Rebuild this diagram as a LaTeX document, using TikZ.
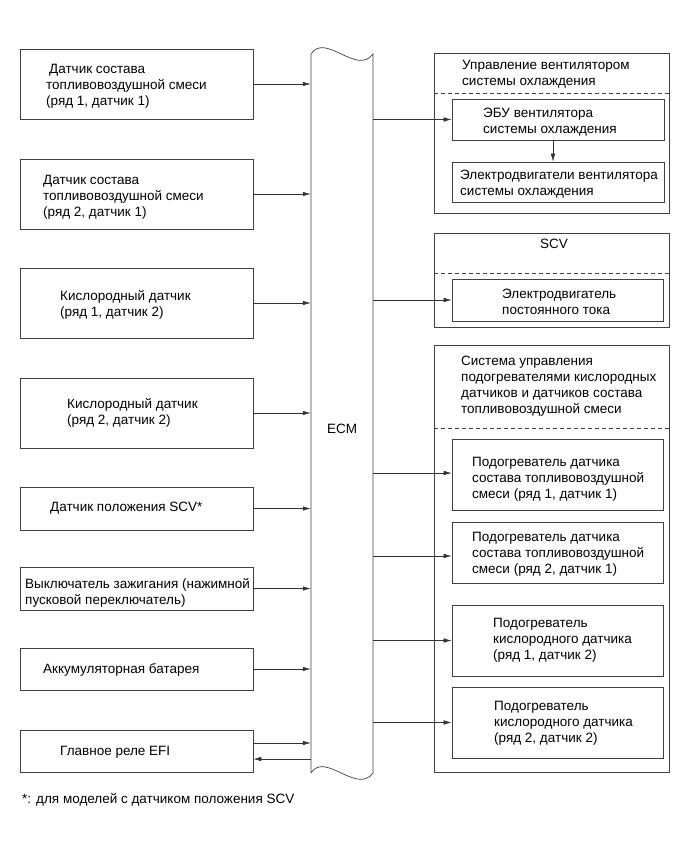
\documentclass[tikz,border=0pt]{standalone}
\usepackage{fontspec}
\setmainfont{Liberation Sans}
\usetikzlibrary{arrows.meta,fit}
\begin{document}
\begin{tikzpicture}[x=1pt,y=-1pt,
  box/.style={draw=black!75, line width=0.7pt, inner sep=0pt},
  txt/.style={font=\fontsize{13.5}{16}\selectfont, align=left, anchor=west, inner sep=0pt, yshift=-1.5pt},
  arr/.style={draw=black!80, line width=0.6pt, -{Latex[length=8pt,width=4.5pt]}},
  sep/.style={draw=black!75, line width=0.6pt, dash pattern=on 4pt off 3pt},
  wave/.style={draw=black!75, line width=0.7pt}
]
\useasboundingbox (0,0) rectangle (691,854);

% left boxes
\node[box, fit={(20,49)(253,119)}] (l1) {};
\node[box, fit={(20,159)(253,229)}] (l2) {};
\node[box, fit={(20,268)(253,338)}] (l3) {};
\node[box, fit={(20,378)(253,448)}] (l4) {};
\node[box, fit={(20,487)(253,530)}] (l5) {};
\node[box, fit={(20,567)(253,610)}] (l6) {};
\node[box, fit={(20,648)(253,690)}] (l7) {};
\node[box, fit={(20,730)(253,772)}] (l8) {};

\node[txt] (t1) at (46,84.5) {\hspace*{3pt}Датчик состава\\топливовоздушной смеси\\(ряд 1, датчик 1)};
\node[txt] (t2) at (43,195.5) {Датчик состава\\топливовоздушной смеси\\(ряд 2, датчик 1)};
\node[txt] (t3) at (60,303) {Кислородный датчик\\(ряд 1, датчик 2)};
\node[txt] (t4) at (67,411) {Кислородный датчик\\(ряд 2, датчик 2)};
\node[txt] (t5) at (50,507) {Датчик положения SCV*};
\node[txt] (t6) at (25,591) {Выключатель зажигания (нажимной\\пусковой переключатель)};
\node[txt] (t7) at (43,668) {Аккумуляторная батарея};
\node[txt] (t8) at (60,751) {Главное реле EFI};

% ECM
\node[inner sep=0pt, fit={(311,54)(373,773)}] (ecm) {};
\draw[wave] (311,773) -- (311,54) .. controls (325,32) and (357,76) .. (373,54)
  -- (373,773) .. controls (357,795) and (325,751) .. (311,773);
\node[txt, anchor=center] (ecmt) at (342,427) {ECM};

% right groups
\node[box, fit={(434,53)(669,213)}] (r1) {};
\draw[sep] (r1.west |- 0,93) -- (r1.east |- 0,93);
\node[box, fit={(452,99)(664,140)}] (r1a) {};
\node[box, fit={(452,162)(664,202)}] (r1b) {};
\node[txt] (rt1) at (462,72.5) {Управление вентилятором\\системы охлаждения};
\node[txt] (rt1a) at (483,120.5) {ЭБУ вентилятора\\системы охлаждения};
\node[txt] (rt1b) at (460,183) {Электродвигатели вентилятора\\системы охлаждения};

\node[box, fit={(434,233)(669,327)}] (r2) {};
\draw[sep] (r2.west |- 0,273) -- (r2.east |- 0,273);
\node[box, fit={(452,279)(663,321)}] (r2a) {};
\node[txt, anchor=center] (rt2) at (554,242) {SCV};
\node[txt] (rt2a) at (502,300) {Электродвигатель\\постоянного тока};

\node[box, fit={(434,345)(669,772)}] (r3) {};
\draw[sep] (r3.west |- 0,428) -- (r3.east |- 0,428);
\node[box, fit={(452,439)(663,510)}] (h1) {};
\node[box, fit={(452,522)(663,583)}] (h2) {};
\node[box, fit={(452,605)(663,676)}] (h3) {};
\node[box, fit={(452,687)(663,758)}] (h4) {};
\node[txt] (rt3) at (461,384.5) {Система управления\\подогревателями кислородных\\датчиков и датчиков состава\\топливовоздушной смеси};
\node[txt] (th1) at (472,478) {Подогреватель датчика\\состава топливовоздушной\\смеси (ряд 1, датчик 1)};
\node[txt] (th2) at (472,553) {Подогреватель датчика\\состава топливовоздушной\\смеси (ряд 2, датчик 1)};
\node[txt] (th3) at (493,639) {Подогреватель\\кислородного датчика\\(ряд 1, датчик 2)};
\node[txt] (th4) at (494,722) {Подогреватель\\кислородного датчика\\(ряд 2, датчик 2)};

\node[txt] (foot) at (22,798) {*: для моделей с датчиком положения SCV};

% connectors left
\draw[arr] (l1.east) -- (ecm.west |- l1.east);
\draw[arr] (l2.east) -- (ecm.west |- l2.east);
\draw[arr] (l3.east) -- (ecm.west |- l3.east);
\draw[arr] (l4.east) -- (ecm.west |- l4.east);
\draw[arr] (l5.east) -- (ecm.west |- l5.east);
\draw[arr] (l6.east) -- (ecm.west |- l6.east);
\draw[arr] (l7.east) -- (ecm.west |- l7.east);
\draw[arr] (l8.east |- 0,743) -- (ecm.west |- 0,743);
\draw[arr] (ecm.west |- 0,759) -- (l8.east |- 0,759);

% connectors right
\draw[arr] (ecm.east |- r1a.west) -- (r1a.west);
\draw[arr] (r1a.south -| 553,0) -- (r1b.north -| 553,0);
\draw[arr] (ecm.east |- r2a.west) -- (r2a.west);
\draw[arr] (ecm.east |- 0,473) -- (h1.west |- 0,473);
\draw[arr] (ecm.east |- 0,556) -- (h2.west |- 0,556);
\draw[arr] (ecm.east |- h3.west) -- (h3.west);
\draw[arr] (ecm.east |- h4.west) -- (h4.west);
\end{tikzpicture}
\end{document}
